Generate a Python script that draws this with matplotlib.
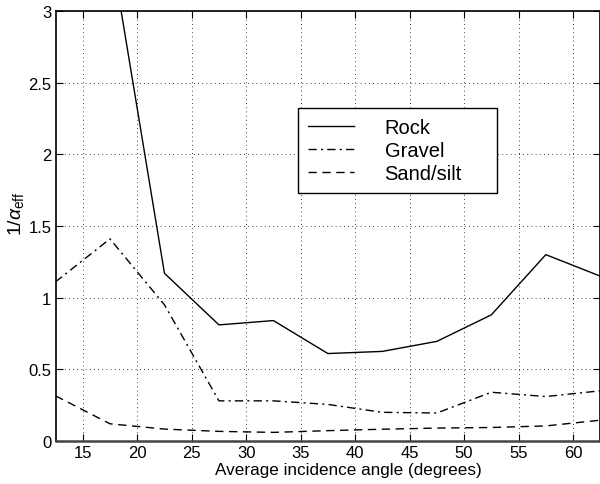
import matplotlib
matplotlib.use("Agg")
import matplotlib.pyplot as plt
import numpy as np

plt.rcParams['font.family'] = ['Liberation Sans', 'DejaVu Sans']
plt.rcParams['mathtext.fontset'] = 'custom'
plt.rcParams['mathtext.rm'] = 'Liberation Sans'
plt.rcParams['mathtext.it'] = 'Liberation Sans:italic'

# bin centres (degrees)
angle = [12.5, 17.5, 22.5, 27.5, 32.5, 37.5, 42.5, 47.5, 52.5, 57.5, 62.5]
angle_rock = [17.5, 22.5, 27.5, 32.5, 37.5, 42.5, 47.5, 52.5, 57.5, 62.5]

rock = [3.47, 1.17, 0.81, 0.84, 0.61, 0.625, 0.695, 0.88, 1.30, 1.15]
gravel = [1.11, 1.41, 0.95, 0.28, 0.28, 0.255, 0.20, 0.195, 0.34, 0.31, 0.35]
sand = [0.315, 0.12, 0.083, 0.067, 0.06, 0.072, 0.082, 0.09, 0.094, 0.105, 0.145]

xticks = [15, 20, 25, 30, 35, 40, 45, 50, 55, 60]
yticks = [0, 0.5, 1, 1.5, 2, 2.5, 3]

fig = plt.figure(figsize=(6, 4.85), dpi=100)
ax = fig.add_axes([0.0925, 0.0887, 0.908, 0.8866])

ax.plot(angle_rock, rock, color='k', lw=1.0, ls='-', label='Rock')
ax.plot(angle, gravel, color='k', lw=1.0, ls=(0, (6, 3, 1.5, 3)), label='Gravel')
ax.plot(angle, sand, color='k', lw=1.0, ls=(0, (6, 4)), label='Sand/silt')

ax.set_xlim(12.5, 62.5)
ax.set_ylim(0, 3)
ax.set_xticks(xticks)
ax.set_yticks(yticks)
ax.set_yticklabels(['0', '0.5', '1', '1.5', '2', '2.5', '3'])
ax.tick_params(direction='in', length=5, width=0.8, labelsize=12,
               top=True, right=True, pad=3)
ax.grid(True, color='k', ls=(0, (1, 4)), lw=0.6)

for s in ax.spines.values():
    s.set_linewidth(1.2)
    s.set_color('k')
ax.spines['bottom'].set_linewidth(1.8)
ax.spines['bottom'].set_color('#444444')

ax.set_xlabel('Average incidence angle (degrees)', fontsize=12.3)
ax.xaxis.set_label_coords(0.537, -0.05)
ax.set_ylabel(r'$\mathregular{1/}\alpha_{\mathregular{eff}}$', fontsize=14)
ax.yaxis.set_label_coords(-0.054, 0.53)

leg = ax.legend(loc='upper left', bbox_to_anchor=(0.445, 0.579, 0.365, 0.195),
                mode='expand', fontsize=14.5, frameon=True, fancybox=False,
                edgecolor='k', framealpha=1, borderaxespad=0,
                handlelength=2.3, handletextpad=1.5, labelspacing=0.2,
                borderpad=0.5)
leg.get_frame().set_linewidth(1.0)

fig.savefig('out.png', dpi=100)
